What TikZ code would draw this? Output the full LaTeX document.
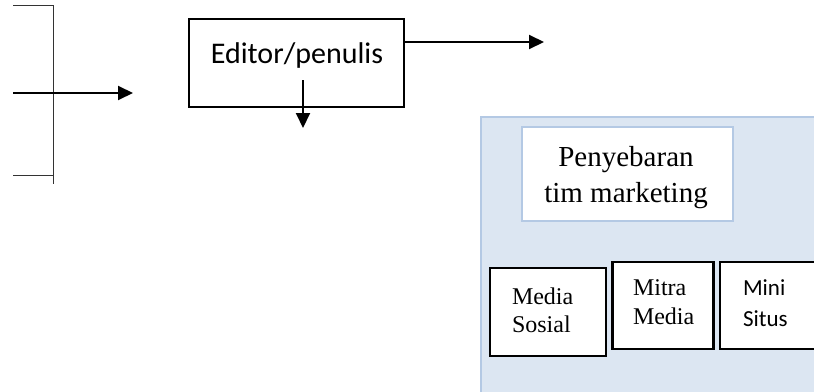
\documentclass[tikz,border=0pt]{standalone}
\usepackage{fontspec}
\setmainfont{Liberation Serif}
\newfontfamily\calib{Carlito}
\usetikzlibrary{arrows.meta}
\definecolor{panelfill}{HTML}{DCE6F2}
\definecolor{panelline}{HTML}{B4C9E4}
\tikzset{
  flow/.style={line width=2pt, -{Triangle[length=15pt,width=14pt]}},
  blackbox/.style={draw=black, line width=2.2pt, fill=white, inner sep=0pt},
  txt/.style={inner sep=0pt, outer sep=0pt},
}
\begin{document}
\begin{tikzpicture}[x=1pt,y=-1pt]
\useasboundingbox (0,0) rectangle (814,391);
\clip (0,0) rectangle (814,391);

% bracket on the left
\coordinate (b1) at (13,5);
\coordinate (b2) at (53,5);
\coordinate (b3) at (53,184);
\coordinate (b4) at (53,175);
\coordinate (b5) at (13,175);
\draw[line width=1pt, black!80] (b1) -- (b2) -- (b3);
\draw[line width=1pt, black!80] (b4) -- (b5);

% editor box
\node[draw=black, line width=2.2pt, minimum width=215pt, minimum height=88pt, inner sep=0pt]
  (ed) at (296.5,63) {};
\node[txt, anchor=base, font=\calib\fontsize{30}{34}\selectfont] (edt) at (297,63) {Editor/penulis};

% arrows
\coordinate (in0) at (13,93);
\coordinate (in1) at (133,93);
\draw[flow] (in0) -- (in1);
\coordinate (d0) at (303,80);
\coordinate (d1) at (303,128);
\draw[flow] (d0) -- (d1);
\coordinate (r1) at (544,42);
\draw[flow] (ed.east |- r1) -- (r1);

% marketing panel
\node[draw=panelline, fill=panelfill, line width=2pt, minimum width=360pt, minimum height=300pt,
  inner sep=0pt, anchor=north west] (panel) at (480,116) {};
\node[draw=panelline, fill=white, line width=2pt, minimum width=211pt, minimum height=94pt,
  inner sep=0pt] (pt) at (627.5,174) {};
\node[txt, align=center, font=\fontsize{29}{36}\selectfont] (ptt) at (626,178)
  {Penyebaran\\tim marketing};

% channel boxes
\node[blackbox, minimum width=116pt, minimum height=88pt] (ms) at (548,312) {};
\node[txt, anchor=west, align=left, font=\fontsize{24}{28}\selectfont] (mst) at (512,310)
  {Media\\Sosial};
\node[blackbox, minimum width=101pt, minimum height=87pt] (mm) at (663,305.5) {};
\node[txt, anchor=west, align=left, font=\fontsize{24}{29}\selectfont] (mmt) at (633,302)
  {Mitra\\Media};
\node[blackbox, minimum width=120pt, minimum height=87pt] (mi) at (780,305.5) {};
\node[txt, anchor=west, align=left, font=\calib\fontsize{23}{31}\selectfont] (mit) at (743,303)
  {Mini\\Situs};
\end{tikzpicture}
\end{document}
